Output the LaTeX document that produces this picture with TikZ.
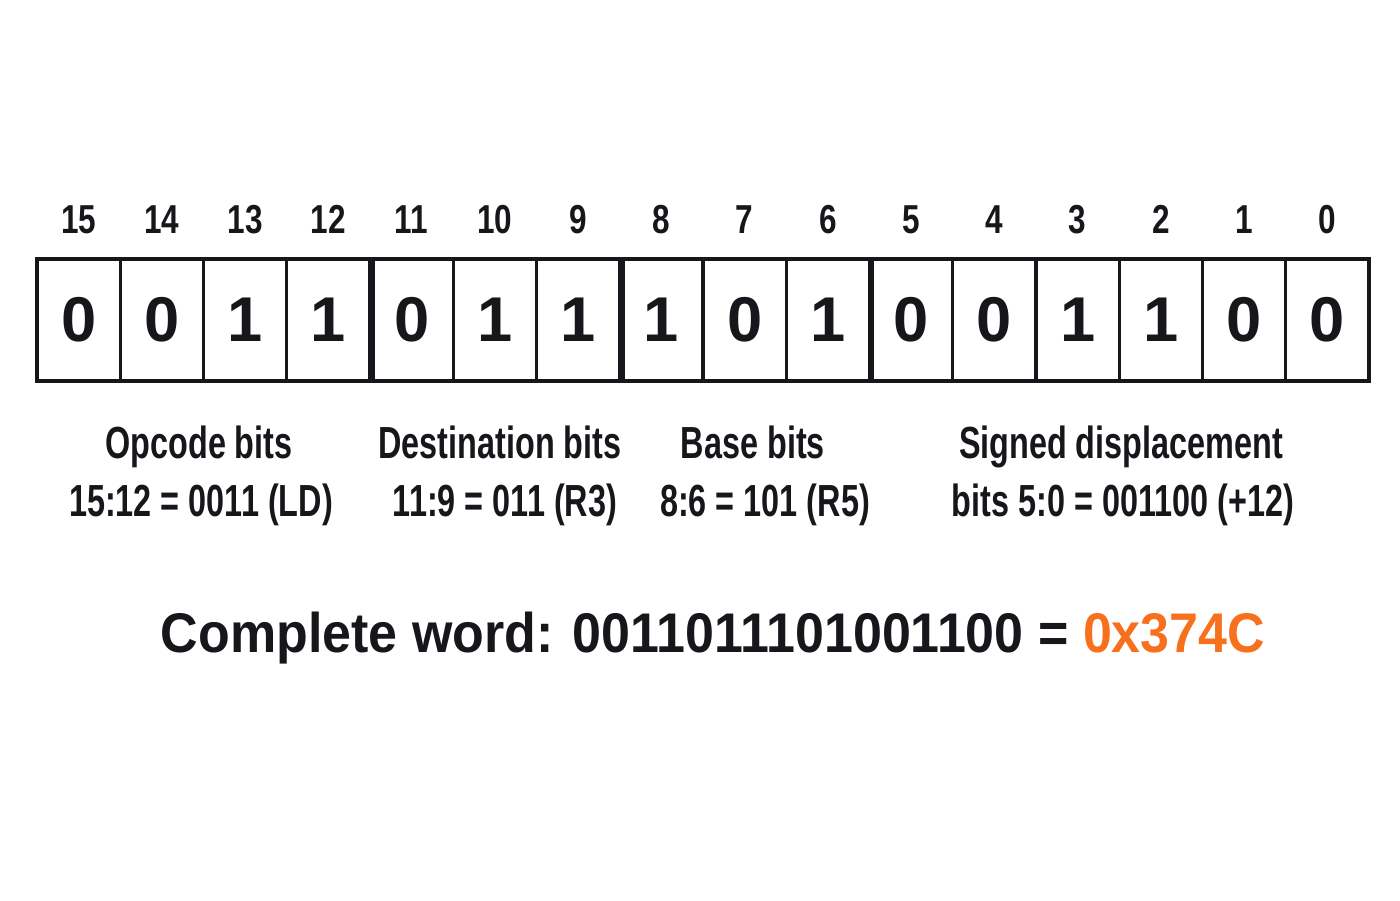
\documentclass[tikz,border=0pt]{standalone}
\usepackage{fontspec}
\setmainfont{Liberation Sans}
\newfontfamily\narrowfont[FakeStretch=0.72]{Liberation Sans}
\newfontfamily\numfont[FakeStretch=0.78]{Liberation Sans}
\newfontfamily\wordfont[FakeStretch=0.93]{Liberation Sans}
\usepackage{xcolor}
\usepackage{tikz}
\definecolor{ink}{HTML}{15171B}
\definecolor{hexorange}{HTML}{F7701E}

\tikzset{
  bitcell/.style={draw=ink, line width=0.9pt, inner sep=0pt,
    minimum width=0.8325cm, minimum height=1.22cm,
    font=\fontsize{18}{18}\selectfont\bfseries, text=ink},
  bitnum/.style={anchor=base, font=\numfont\fontsize{11.5}{12}\selectfont\bfseries, text=ink},
  fieldlabel/.style={anchor=base, font=\narrowfont\fontsize{12.8}{14}\selectfont\bfseries, text=ink},
  groupsep/.style={draw=ink, line width=1.8pt}
}

\begin{document}
\begin{tikzpicture}
                    \useasboundingbox (0,0) rectangle (14,9);
                    % bit cells, bit 15 on the left
                    \foreach \i/\v in {15/0,14/0,13/1,12/1,11/0,10/1,9/1,8/1,7/0,6/1,5/0,4/0,3/1,2/1,1/0,0/0} {
                        \node[bitcell] (b\i) at ({0.37+0.8325*(15-\i+0.5)},5.80) {\v};
                        \node[bitnum] (n\i) at ({0.37+0.8325*(15-\i+0.5)},6.66) {\i};
                    }
                    % field boundaries
                    \draw[groupsep] (b12.north east) -- (b12.south east);
                    \draw[groupsep] (b9.north east) -- (b9.south east);
                    \draw[groupsep] (b6.north east) -- (b6.south east);
                    % field descriptions
                    \node[fieldlabel] (opc) at (1.99,4.42) {Opcode bits};
                    \node[fieldlabel] (opcv) at (2.01,3.84) {15:12 = 0011 (LD)};
                    \node[fieldlabel] (dst) at (5.00,4.42) {Destination bits};
                    \node[fieldlabel] (dstv) at (5.05,3.84) {11:9 = 011 (R3)};
                    \node[fieldlabel] (base) at (7.53,4.42) {Base bits};
                    \node[fieldlabel] (basev) at (7.65,3.84) {8:6 = 101 (R5)};
                    \node[fieldlabel] (disp) at (11.21,4.42) {Signed displacement};
                    \node[fieldlabel] (dispv) at (11.23,3.84) {bits 5:0 = 001100 (+12)};
                    % whole word
                    \node[anchor=base, font=\wordfont\fontsize{15.9}{18}\selectfont\bfseries, text=ink] (word) at (7.13,2.48)
                        {Complete word: 0011011101001100 = \textcolor{hexorange}{0x374C}};
                \end{tikzpicture}
\end{document}
